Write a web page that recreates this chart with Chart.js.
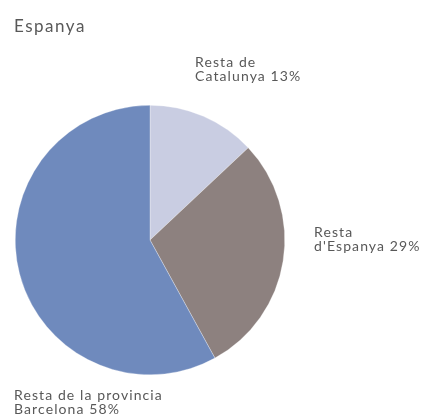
<!DOCTYPE html>
<html>
<head>
<meta charset="utf-8">
<script src="https://cdn.jsdelivr.net/npm/chart.js@4"></script>
<style>
  body { margin: 0; background: #fff; }
</style>
</head>
<body>
<canvas id="mycanvas" width="423" height="419"></canvas>
<script>
// dades del gràfic
var title = "Espanya";
var categories = [["Resta de", "Catalunya"], ["Resta", "d'Espanya"], ["Resta de la provincia", "Barcelona"]];
var values = [13, 29, 58];
var colors = ["#c9cde2", "#8d817f", "#6f8abd"];

// posició de cada etiqueta (x, línia base de la primera línia)
var labelPos = [[195, 67], [314, 237], [14, 400]];

var labelPlugin = {
	id: 'labelPlugin',
	afterDraw: function(chart) {
		var ctx = chart.ctx;
		ctx.save();
		ctx.fillStyle = "#585858";
		ctx.textBaseline = "alphabetic";
		ctx.font = "17px Lato";
		ctx.letterSpacing = "1.5px";
		ctx.fillText(title, 14, 32);
		ctx.font = "14px Lato";
		ctx.letterSpacing = "1.1px";
		for (var i = 0; i < categories.length; i++) {
			var lines = categories[i].slice();
			lines[lines.length - 1] += " " + values[i] + "%";
			for (var j = 0; j < lines.length; j++) {
				ctx.fillText(lines[j], labelPos[i][0], labelPos[i][1] + j * 14);
			}
		}
		ctx.restore();
	}
};

var ctx = document.getElementById("mycanvas");
var pie = new Chart(ctx, {
	type: 'pie',
	data: {
		labels: categories.map(function(c) { return c.join(" "); }),
		datasets: [{
			data: values,
			backgroundColor: colors,
			borderColor: "rgba(255,255,255,0.6)",
			borderWidth: 0.5
		}]
	},
	options: {
		responsive: false,
		animation: false,
		layout: { padding: { left: 15, right: 138, top: 105, bottom: 44 } },
		plugins: {
			legend: { display: false },
			tooltip: { enabled: false }
		}
	},
	plugins: [labelPlugin]
});
</script>
</body>
</html>
